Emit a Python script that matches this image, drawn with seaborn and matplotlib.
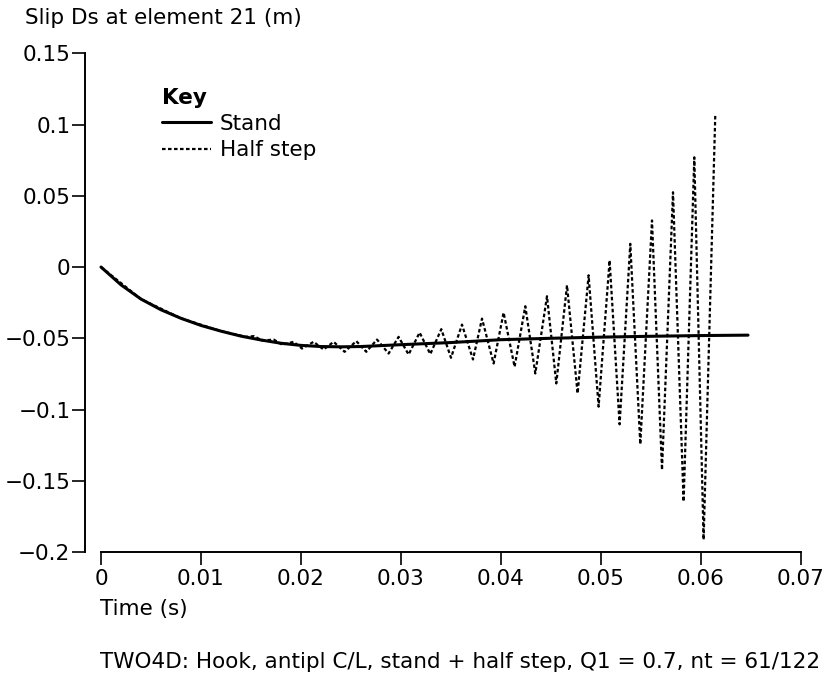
import numpy as np
import pandas as pd
import seaborn as sns

from matplotlib import pyplot as plt

# Stand solution (time in s, slip in m)
stand_t = [0.0, 0.002, 0.004, 0.006, 0.008, 0.010, 0.012, 0.014, 0.016, 0.018,
           0.020, 0.022, 0.024, 0.026, 0.030, 0.035, 0.040, 0.045, 0.050, 0.055,
           0.060, 0.0647]
stand_y = [0.0, -0.0125, -0.0225, -0.0300, -0.0360, -0.0410, -0.0450, -0.0485, -0.0512, -0.0535,
           -0.0550, -0.0558, -0.0560, -0.0558, -0.0545, -0.0530, -0.0510, -0.0500, -0.0492, -0.0486,
           -0.0481, -0.0478]

# Half step solution: follows stand, then growing oscillation (peaks / troughs)
half_t = [0.0, 0.004, 0.008, 0.012, 0.0145, 0.0153, 0.0161, 0.0173, 0.0181,
          0.01926, 0.0201, 0.02126, 0.02226, 0.02326, 0.02436, 0.02553, 0.02653,
          0.0276, 0.02876, 0.02976, 0.03076, 0.03186, 0.03293, 0.03403, 0.0350,
          0.0361, 0.0372, 0.0381, 0.03926, 0.04026, 0.04136, 0.04243, 0.04343,
          0.0446, 0.04553, 0.0466, 0.04766, 0.04876, 0.04976, 0.05086, 0.05186,
          0.05293, 0.05393, 0.0551, 0.0561, 0.0572, 0.05826, 0.05933, 0.06026,
          0.06143]
half_y = [0.0, -0.0225, -0.0360, -0.0450, -0.0490, -0.0485, -0.0515, -0.0510, -0.0545,
          -0.0525, -0.0572, -0.0525, -0.0579, -0.0525, -0.0595, -0.0520, -0.0595,
          -0.0509, -0.0607, -0.0490, -0.0614, -0.0460, -0.0611, -0.0436, -0.0637,
          -0.0404, -0.0649, -0.0362, -0.0677, -0.0320, -0.0700, -0.0275, -0.0747,
          -0.0205, -0.0817, -0.0128, -0.0887, -0.0058, -0.0980, 0.0047, -0.1104,
          0.0163, -0.1244, 0.0327, -0.1424, 0.0525, -0.1646, 0.0770, -0.1914,
          0.1074]

x_ticks = [0, 0.01, 0.02, 0.03, 0.04, 0.05, 0.06, 0.07]
x_labels = ['0', '0.01', '0.02', '0.03', '0.04', '0.05', '0.06', '0.07']
y_ticks = [-0.2, -0.15, -0.1, -0.05, 0, 0.05, 0.1, 0.15]
y_labels = ['\u22120.2', '\u22120.15', '\u22120.1', '\u22120.05', '0', '0.05', '0.1', '0.15']

FS = 15.5


def main():
    sns.set_style('ticks')
    plt.rcParams['font.family'] = ['DejaVu Sans']
    plt.rcParams['text.color'] = 'black'

    stand = pd.DataFrame({'TIME': stand_t, 'SLIP': stand_y})
    half = pd.DataFrame({'TIME': half_t, 'SLIP': half_y})

    fig = plt.figure(figsize=(8.24, 6.8), dpi=100)
    ax = fig.add_axes([85 / 824, 1 - 552 / 680, 716 / 824, (552 - 53.3) / 680])

    sns.lineplot(x='TIME', y='SLIP', data=stand, color='black', linewidth=2.2,
                 estimator=None, sort=False, label='Stand', ax=ax)
    sns.lineplot(x='TIME', y='SLIP', data=half, color='black', linewidth=1.6,
                 linestyle=(0, (1.6, 1.1)), estimator=None, sort=False,
                 label='Half step', ax=ax)

    ax.set_xlim(-0.0016, 0.07)
    ax.set_ylim(-0.2, 0.15)
    ax.set_xticks(x_ticks)
    ax.set_xticklabels(x_labels)
    ax.set_yticks(y_ticks)
    ax.set_yticklabels(y_labels)
    ax.tick_params(axis='both', labelsize=FS, length=9.5, width=1.2, color='black',
                   labelcolor='black')
    ax.tick_params(axis='x', pad=3)
    ax.tick_params(axis='y', pad=1)

    for side in ['top', 'right']:
        ax.spines[side].set_visible(False)
    ax.spines['left'].set_bounds(-0.2, 0.15)
    ax.spines['bottom'].set_bounds(0, 0.07)
    ax.spines['left'].set_linewidth(1.4)
    ax.spines['bottom'].set_linewidth(1.4)
    ax.spines['left'].set_color('black')
    ax.spines['bottom'].set_color('black')

    ax.set_xlabel('')
    ax.set_ylabel('')

    leg = ax.legend(title='Key', loc='upper left', bbox_to_anchor=(0.1075, 0.93),
                    frameon=False, fontsize=FS, handlelength=2.3, handletextpad=0.4,
                    borderpad=0, borderaxespad=0, labelspacing=0.3,
                    alignment='left', title_fontproperties={'weight': 'bold', 'size': FS})
    leg._legend_box.sep = 4
    for text in leg.get_texts():
        text.set_color('black')
    leg.get_title().set_color('black')

    fig.text(25 / 824, 1 - 18 / 680, 'Slip Ds at element 21 (m)', fontsize=FS,
             ha='left', va='center', color='black')
    fig.text(100 / 824, 1 - 609 / 680, 'Time (s)', fontsize=FS, ha='left', va='center',
             color='black')
    fig.text(100 / 824, 1 - 662 / 680,
             'TWO4D: Hook, antipl C/L, stand + half step, Q1 = 0.7, nt = 61/122',
             fontsize=FS, ha='left', va='center', color='black')

    fig.savefig('out.png', dpi=100)

    return


if __name__ == '__main__':
    main()
